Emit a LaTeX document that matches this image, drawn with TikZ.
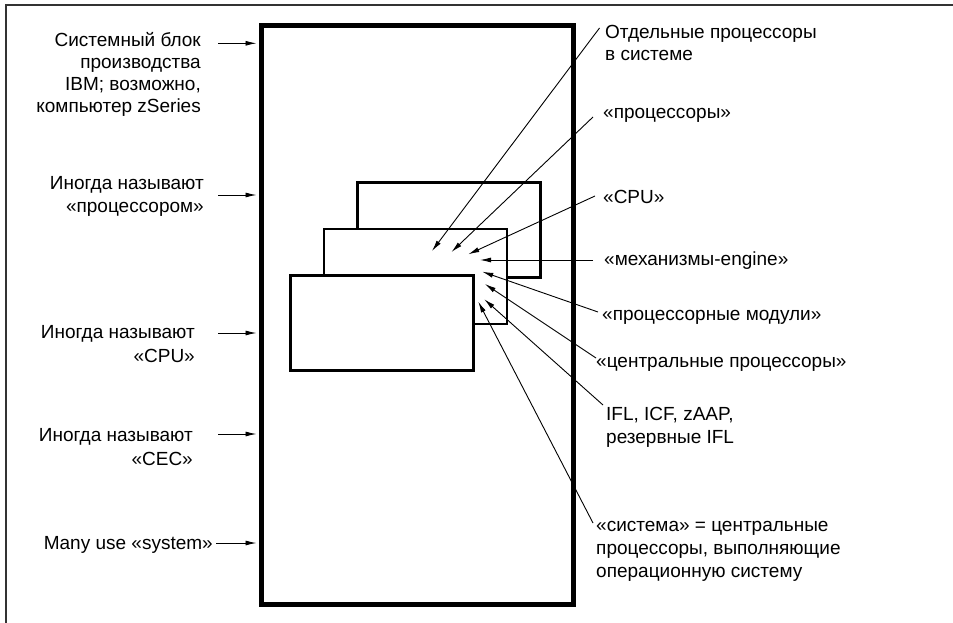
\documentclass[tikz,border=0pt]{standalone}
\usepackage{fontspec}
\setmainfont{Liberation Sans}
\usetikzlibrary{arrows.meta}
\begin{document}
\begin{tikzpicture}[x=1pt,y=-1pt,
  lbl/.style={inner sep=0pt, font=\fontsize{19}{#1}\selectfont},
  lbl/.default=23,
  lleft/.style={lbl=#1, anchor=base east, align=right},
  lleft/.default=23,
  lright/.style={lbl=#1, anchor=base west, align=left},
  lright/.default=23,
  ptr/.style={line width=0.9pt, -{Latex[length=11pt,width=5pt]}},
  cpubox/.style={draw, line width=2.6pt, fill=white, minimum width=183pt, minimum height=95pt, inner sep=0pt, anchor=north west},
  frameline/.style={line width=1.5pt, black!80}
]
\useasboundingbox (0,0) rectangle (953,623);
% outer frame (top and left only)
\draw[frameline] (6,623) -- (6,5) -- (953,5);
% system box
\node[draw, line width=5pt, minimum width=311.5pt, minimum height=578.5pt, inner sep=0pt] (sys) at (417.25,314.75) {};
% processor boxes
\node[cpubox] (back) at (356,181) {};
\node[cpubox] (mid) at (322.5,227.5) {};
\node[cpubox] (front) at (289,274) {};

% left labels (base anchor = baseline of last line)
\node[lleft=22] (la) at (201,112.5) {Системный блок\\производства\\IBM; возможно,\\компьютер zSeries};
\node[lleft=23.7] (lb) at (204,212.7) {Иногда называют\\«процессором»};
\node[lleft=24] (lc) at (195,362.7) {Иногда называют\\«CPU»};
\node[lleft=24] (ld) at (193,465) {Иногда называют\\«CEC»};
\node[lleft] (le) at (213,549) {Many use «system»};

\coordinate (aa) at (218,43.3);
\coordinate (ab) at (218,195);
\coordinate (ac) at (218,333);
\coordinate (ad) at (218,434);
\coordinate (ae) at (216,543);
\foreach \c in {aa,ab,ac,ad,ae}
  \draw[ptr, shorten >=2.5pt] (\c) -- (\c -| sys.west);

% right labels
\node[lright=22] (r1) at (605,60.3) {Отдельные процессоры\\в системе};
\node[lright] (r2) at (603,119) {«процессоры»};
\node[lright] (r3) at (603,203.3) {«CPU»};
\node[lright] (r4) at (604,265) {«механизмы-engine»};
\node[lright] (r5) at (602,320.7) {«процессорные модули»};
\node[lright] (r6) at (596,367) {«центральные процессоры»};
\node[lright=23] (r7) at (606,443) {IFL, ICF, zAAP,\\резервные IFL};
\node[lright=23] (r8) at (596,577) {«система» = центральные\\процессоры, выполняющие\\операционную систему};

% connector ends
\coordinate (s1) at (599.5,28);
\coordinate (s2) at (593,117);
\coordinate (s3) at (595,196);
\coordinate (s4) at (593,260);
\coordinate (s5) at (598,312);
\coordinate (s6) at (596,358);
\coordinate (s7) at (603,405);
\coordinate (s8) at (593,523);
\coordinate (t1) at (432,251);
\coordinate (t2) at (451.5,252);
\coordinate (t3) at (468.3,254.3);
\coordinate (t4) at (480,260);
\coordinate (t5) at (482.3,271.7);
\coordinate (t6) at (485,284);
\coordinate (t7) at (484.3,299.3);
\coordinate (t8) at (478.3,301.7);
\foreach \i in {1,...,8}
  \draw[ptr] (s\i) -- (t\i);
\end{tikzpicture}
\end{document}
